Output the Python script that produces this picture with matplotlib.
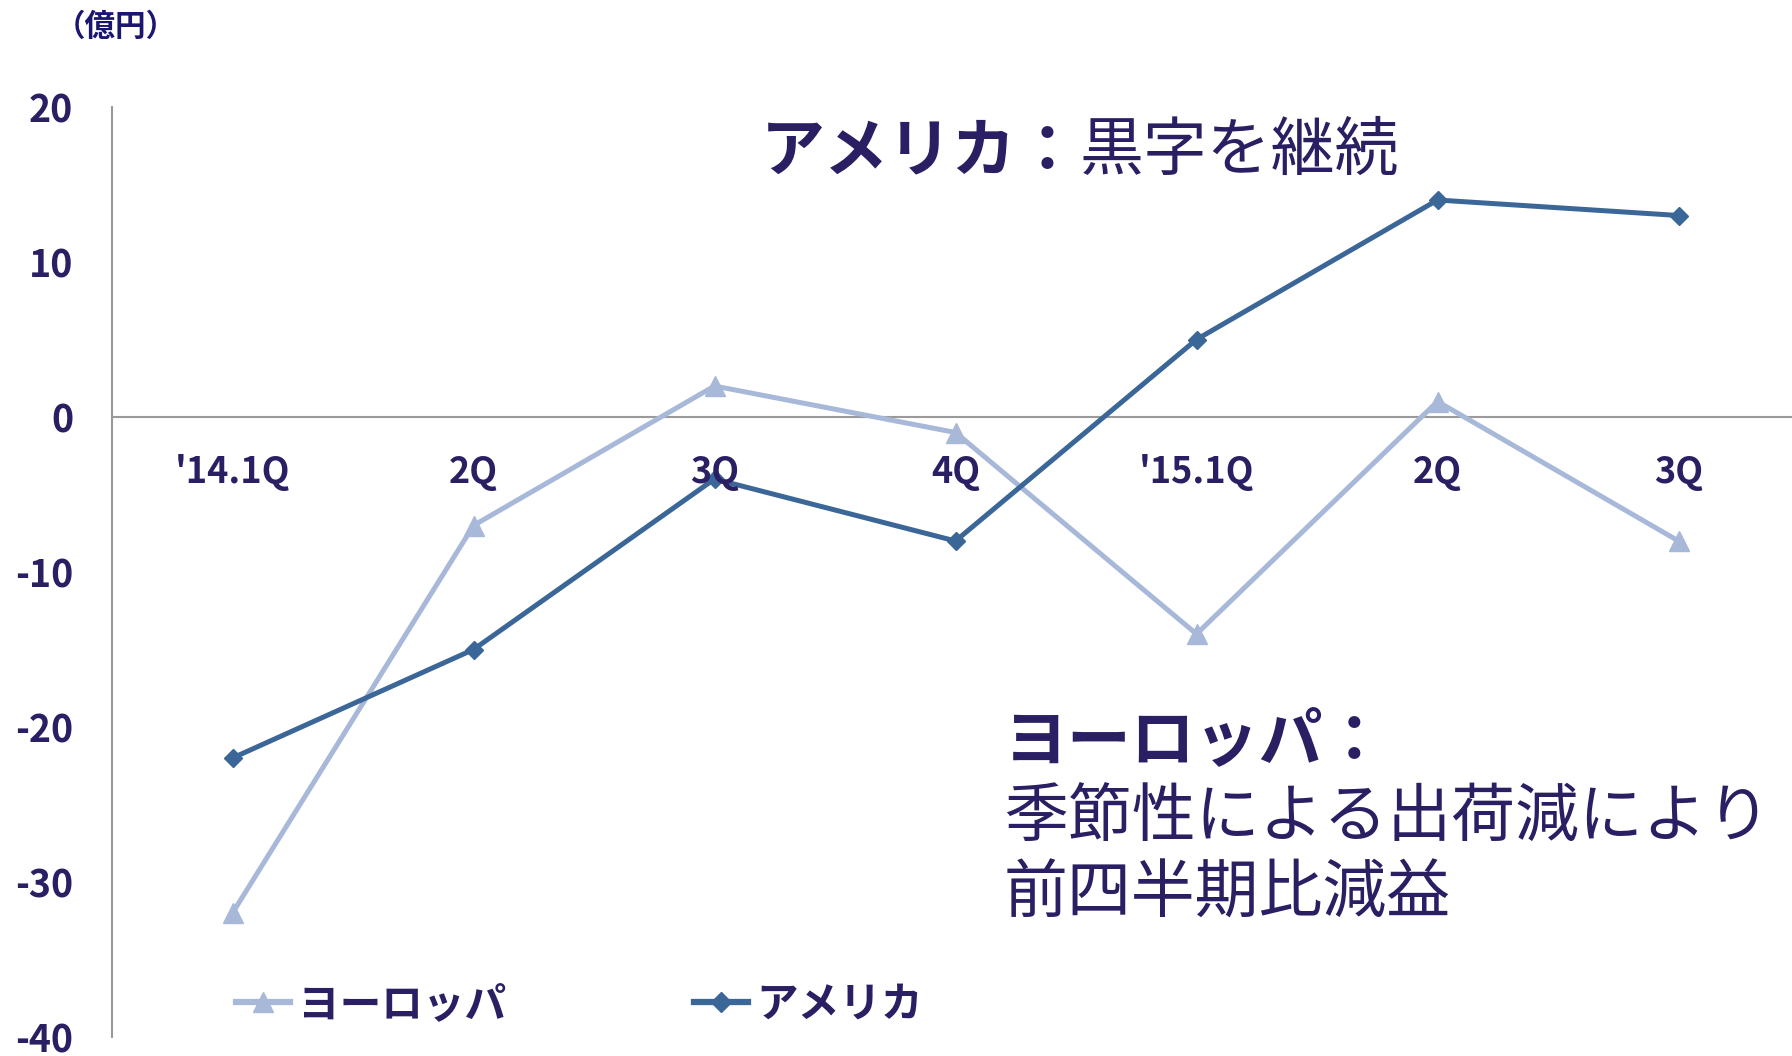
import matplotlib
matplotlib.use("Agg")
import matplotlib.pyplot as plt
from matplotlib.lines import Line2D

plt.rcParams['font.family'] = ['Noto Sans CJK JP', 'DejaVu Sans']

categories = ["'14.1Q", "2Q", "3Q", "4Q", "'15.1Q", "2Q", "3Q"]
europe = [-32, -7, 2, -1, -14, 1, -8]
america = [-22, -15, -4, -8, 5, 14, 13]
yticks = [20, 10, 0, -10, -20, -30, -40]
series_names = ["ヨーロッパ", "アメリカ"]

TXT = "#2A1F63"
C_EU = "#A7B8D8"
C_US = "#3B6698"
AX_GRAY = "#9A9A9A"

W, H = 1792, 1056
fig = plt.figure(figsize=(W / 100, H / 100), dpi=100)
left, right = 112, 1792
ytop, ybot = 107, 1037
ax = fig.add_axes([left / W, (H - ybot) / H, (right - left) / W, (ybot - ytop) / H])

x = list(range(len(categories)))
ax.plot(x, europe, color=C_EU, lw=3.6, marker='^', ms=14, mec=C_EU, mfc=C_EU, zorder=3)
ax.plot(x, america, color=C_US, lw=3.6, marker='D', ms=9.5, mec=C_US, mfc=C_US, zorder=4)

ax.set_ylim(-40, 20)
ax.set_xlim(-0.5, -0.5 + (right - left) / 241.0)
ax.axhline(0, color=AX_GRAY, lw=1.5, zorder=1)

for s in ['top', 'right', 'bottom']:
    ax.spines[s].set_visible(False)
ax.spines['left'].set_color(AX_GRAY)
ax.spines['left'].set_linewidth(1.5)

ax.set_xticks([])
ax.set_yticks(yticks)
ax.set_yticklabels([str(v) for v in yticks], fontsize=27, fontweight='bold', color=TXT)
ax.tick_params(axis='y', length=0, pad=28)

for xi, lab in zip(x, categories):
    ax.text(xi, -3.6, lab, ha='center', va='center', fontsize=26,
            fontweight='bold', color=TXT, zorder=5)

# unit label
fig.text(55 / W, 1 - 27 / H, "（億円）", fontsize=22, fontweight='bold',
         color="#1B1670", ha='left', va='center')

# annotations
fig.text(761 / W, 1 - 152 / H, "アメリカ：", fontsize=46, fontweight='bold',
         color=TXT, ha='left', va='center')
fig.text(1080 / W, 1 - 152 / H, "黒字を継続", fontsize=46,
         color=TXT, ha='left', va='center')
fig.text(1004 / W, 1 - 742 / H, "ヨーロッパ：", fontsize=46, fontweight='bold',
         color=TXT, ha='left', va='center')
fig.text(1004 / W, 1 - 819 / H, "季節性による出荷減により", fontsize=46,
         color=TXT, ha='left', va='center')
fig.text(1004 / W, 1 - 894 / H, "前四半期比減益", fontsize=46,
         color=TXT, ha='left', va='center')

handles = [
    Line2D([], [], color=C_EU, lw=4.5, marker='^', ms=14, mec=C_EU, mfc=C_EU),
    Line2D([], [], color=C_US, lw=4.5, marker='D', ms=10, mec=C_US, mfc=C_US),
]
leg = fig.legend(handles, series_names, loc='center left',
                 bbox_to_anchor=(236 / W, 1 - 1005 / H), ncol=2, frameon=False,
                 handlelength=1.3, handletextpad=0.2, columnspacing=4.5,
                 prop={'size': 30, 'weight': 'bold'}, borderaxespad=0, borderpad=0)
for t in leg.get_texts():
    t.set_color(TXT)

fig.savefig("out.png", dpi=100)
